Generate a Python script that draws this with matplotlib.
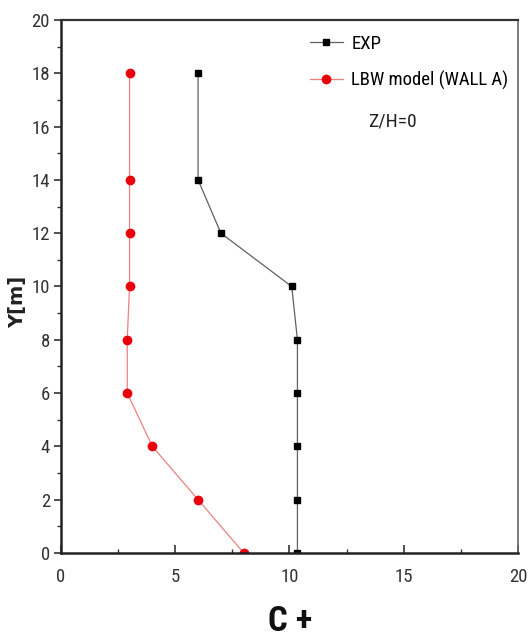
import matplotlib
matplotlib.use("Agg")
import matplotlib.pyplot as plt
from matplotlib.ticker import MultipleLocator

y_m = [18, 14, 12, 10, 8, 6, 4, 2, 0]
exp_c = [6.0, 6.0, 7.0, 10.1, 10.35, 10.35, 10.35, 10.35, 10.35]
lbw_c = [3.0, 3.0, 3.0, 3.0, 2.9, 2.9, 4.0, 6.0, 8.0]

NARROW = ['Roboto Condensed', 'Archivo Narrow', 'DejaVu Sans']
plt.rcParams['font.family'] = NARROW

fig = plt.figure(figsize=(5.29, 6.39), dpi=100)
ax = fig.add_axes([0.1153, 0.1346, 0.8637, 0.8341])

ax.plot(exp_c, y_m, color='#606060', lw=0.9, marker='s', ms=5,
        mfc='black', mec='black', label='EXP')
ax.plot(lbw_c, y_m, color='#f08080', lw=0.9, marker='o', ms=6,
        mfc='#e8000b', mec='#e8000b', label='LBW model (WALL A)')

ax.set_xlim(0, 20)
ax.set_ylim(0, 20)
ax.xaxis.set_major_locator(MultipleLocator(5))
ax.xaxis.set_minor_locator(MultipleLocator(2.5))
ax.yaxis.set_major_locator(MultipleLocator(2))
ax.yaxis.set_minor_locator(MultipleLocator(1))

ax.tick_params(axis='x', which='both', direction='in', labelsize=13.5,
               pad=11, colors='#333333')
ax.tick_params(axis='x', which='major', length=6, width=1.2)
ax.tick_params(axis='x', which='minor', length=3, width=1.0)
ax.tick_params(axis='y', which='both', direction='out', labelsize=13.5,
               pad=3, colors='#333333')
ax.tick_params(axis='y', which='major', length=5, width=1.2)
ax.tick_params(axis='y', which='minor', length=3, width=1.0)

for side in ('left', 'bottom'):
    ax.spines[side].set_linewidth(1.8)
    ax.spines[side].set_color('#222222')
ax.spines['top'].set_linewidth(1.6)
ax.spines['top'].set_color('#333333')
ax.spines['right'].set_linewidth(1.2)
ax.spines['right'].set_color('#666666')

ax.set_xlabel('C +', fontsize=25, fontweight='bold', color='#111111')
ax.xaxis.set_label_coords(0.501, -0.128)
ax.xaxis.label.set_va('center')
ax.set_ylabel('Y[m]', fontsize=14, fontweight='bold', color='#222222',
              family=['DejaVu Sans'])
ax.yaxis.set_label_coords(-0.094, 0.471)
ax.yaxis.label.set_va('center')

leg = ax.legend(loc='upper left', bbox_to_anchor=(0.545, 0.972),
                frameon=False, fontsize=13.5, handlelength=1.75,
                handletextpad=0.45, labelspacing=0.95, borderpad=0,
                borderaxespad=0)
ax.text(0.672, 0.809, 'Z/H=0', transform=ax.transAxes, fontsize=14,
        ha='left', va='center', color='#222222')

fig.savefig('out.png', dpi=100)
